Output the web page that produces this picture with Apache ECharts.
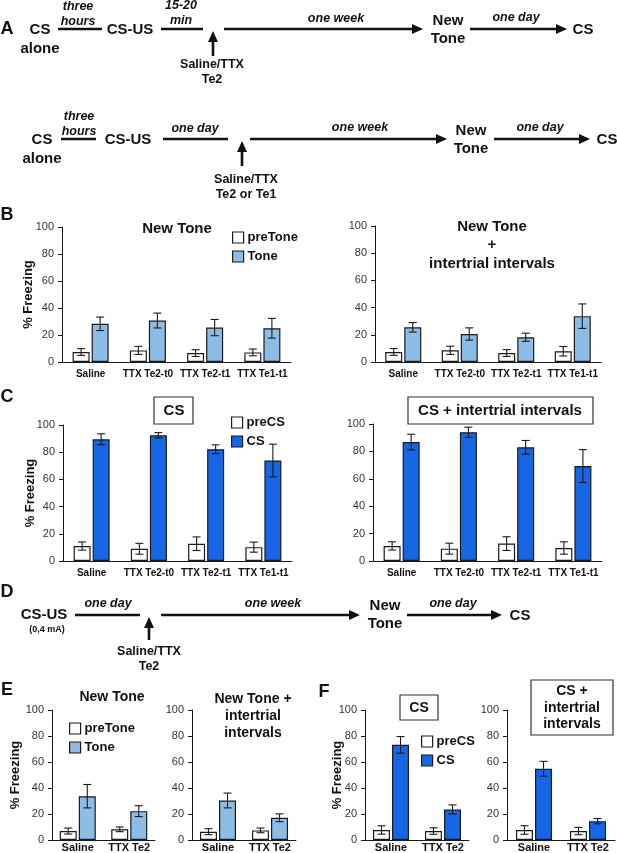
<!DOCTYPE html>
<html>
<head>
<meta charset="UTF-8">
<title>Freezing</title>
<script src="https://cdn.jsdelivr.net/npm/echarts@6/dist/echarts.min.js"></script>
<style>
  html, body { margin: 0; padding: 0; background: #fff; }
  #main { width: 617px; height: 853px; }
</style>
</head>
<body>
<div id="main"></div>
<script type="text/javascript">
// categories
var catsB = ['Saline', 'TTX Te2-t0', 'TTX Te2-t1', 'TTX Te1-t1'];
var catsE = ['Saline', 'TTX Te2'];

// B - new tone (mean, sem)
var bL_pre = [7.4, 8.6, 6.6, 7.1],      bL_preErr = [2.5, 3, 2.5, 2.5];
var bL_tone = [28.3, 30.7, 25.5, 25],   bL_toneErr = [5, 5.5, 6, 7.3];
var bR_pre = [7.4, 8.6, 6.6, 7.9],      bR_preErr = [2.5, 3, 2.5, 3.5];
var bR_tone = [25.5, 20.6, 18.2, 33.7], bR_toneErr = [3.5, 4.5, 3, 9];
// C - CS
var cL_pre = [11, 9, 12.7, 10.2],       cL_preErr = [3, 4, 5, 3.7];
var cL_cs = [89.5, 92.4, 82.2, 73.9],   cL_csErr = [4, 2, 3.2, 12];
var cR_pre = [11, 9, 12.7, 9.5],        cR_preErr = [3, 4, 5, 4.5];
var cR_cs = [86.8, 94, 83, 69.3],       cR_csErr = [5.7, 3.7, 5, 12];
// E - new tone, 0.4 mA
var eL_pre = [6.9, 8.2],   eL_preErr = [2.3, 1.8];
var eL_tone = [33.7, 22.2], eL_toneErr = [9, 4.2];
var eR_pre = [6.4, 7.4],   eR_preErr = [2.3, 1.8];
var eR_tone = [30.4, 17.1], eR_toneErr = [5.7, 3];
// F - CS, 0.4 mA
var fL_pre = [7.7, 6.9],   fL_preErr = [3.2, 2.5];
var fL_cs = [73.2, 23.5],  fL_csErr = [6.4, 3.5];
var fR_pre = [7.7, 6.9],   fR_preErr = [3.3, 2.8];
var fR_cs = [54.8, 14.5],  fR_csErr = [5.7, 2];

var yMin = 0, yMax = 100, yStep = 20;
var toneNames = ['preTone', 'Tone'];
var csNames = ['preCS', 'CS'];

var TONE = '#8cbde6', CSB = '#1766e6', INK = '#1a1a1a';
var FF = '"Liberation Sans", Arial, sans-serif';

// panels: data + where they sit
var panels = [
  {cats: catsB, pre: bL_pre, preErr: bL_preErr, main: bL_tone, mainErr: bL_toneErr, names: toneNames, color: TONE,
   g: [62, 227, 229, 135], bw: 17, fs: 10, lm: 7, yName: 27},
  {cats: catsB, pre: bR_pre, preErr: bR_preErr, main: bR_tone, mainErr: bR_toneErr, names: toneNames, color: TONE,
   g: [375, 226, 226, 136], bw: 17, fs: 10, lm: 7},
  {cats: catsB, pre: cL_pre, preErr: cL_preErr, main: cL_cs, mainErr: cL_csErr, names: csNames, color: CSB,
   g: [63, 425, 229, 136], bw: 17, fs: 10, lm: 7, yName: 26},
  {cats: catsB, pre: cR_pre, preErr: cR_preErr, main: cR_cs, mainErr: cR_csErr, names: csNames, color: CSB,
   g: [373, 424, 229, 137], bw: 17, fs: 10, lm: 7},
  {cats: catsE, pre: eL_pre, preErr: eL_preErr, main: eL_tone, mainErr: eL_toneErr, names: toneNames, color: TONE,
   g: [52, 710, 103, 131], bw: 17, fs: 11, lm: 2, yName: 30},
  {cats: catsE, pre: eR_pre, preErr: eR_preErr, main: eR_tone, mainErr: eR_toneErr, names: toneNames, color: TONE,
   g: [192, 710, 104, 131], bw: 17, fs: 11, lm: 2},
  {cats: catsE, pre: fL_pre, preErr: fL_preErr, main: fL_cs, mainErr: fL_csErr, names: csNames, color: CSB,
   g: [365, 710, 104, 131], bw: 17, fs: 11, lm: 2, yName: 21},
  {cats: catsE, pre: fR_pre, preErr: fR_preErr, main: fR_cs, mainErr: fR_csErr, names: csNames, color: CSB,
   g: [507, 710, 108, 131], bw: 17, fs: 11, lm: 2}
];

var GAP = 0.12;

function errSeries(i, vals, errs, side, bw) {
  var off = side * (bw + GAP * bw) / 2;
  return {
    type: 'custom', xAxisIndex: i, yAxisIndex: i, z: 5, silent: true,
    encode: {x: 0, y: [1, 2]},
    data: vals.map(function (v, k) { return [k, v - errs[k], v + errs[k]]; }),
    renderItem: function (params, api) {
      var lo = api.coord([api.value(0), api.value(1)]);
      var hi = api.coord([api.value(0), api.value(2)]);
      var x = lo[0] + off, cap = 4;
      var st = {stroke: INK, lineWidth: 1.1};
      return {type: 'group', children: [
        {type: 'line', shape: {x1: x, y1: lo[1], x2: x, y2: hi[1]}, style: st},
        {type: 'line', shape: {x1: x - cap, y1: lo[1], x2: x + cap, y2: lo[1]}, style: st},
        {type: 'line', shape: {x1: x - cap, y1: hi[1], x2: x + cap, y2: hi[1]}, style: st}
      ]};
    }
  };
}

var grid = [], xAxis = [], yAxis = [], series = [];
panels.forEach(function (p, i) {
  grid.push({left: p.g[0], top: p.g[1], width: p.g[2], height: p.g[3]});
  xAxis.push({
    type: 'category', gridIndex: i, data: p.cats,
    axisTick: {show: false},
    axisLine: {lineStyle: {color: INK, width: 1}},
    axisLabel: {interval: 0, fontWeight: 'bold', fontSize: p.fs, color: '#111', margin: p.lm, fontFamily: FF}
  });
  yAxis.push({
    type: 'value', gridIndex: i, min: yMin, max: yMax, interval: yStep,
    splitLine: {show: false},
    axisLine: {show: true, lineStyle: {color: INK, width: 1}},
    axisTick: {show: true, length: 4, lineStyle: {color: INK}},
    axisLabel: {fontSize: 11, color: '#333', margin: 8, fontFamily: FF},
    name: p.yName ? '% Freezing' : '',
    nameLocation: 'middle', nameRotate: 90, nameGap: p.yName || 20,
    nameMoveOverlap: false,
    nameTextStyle: {fontWeight: 'bold', fontSize: 13, color: '#111', fontFamily: FF}
  });
  series.push({
    type: 'bar', name: p.names[0], xAxisIndex: i, yAxisIndex: i, data: p.pre,
    barWidth: p.bw, barGap: (GAP * 100) + '%', silent: true,
    itemStyle: {color: '#fff', borderColor: INK, borderWidth: 1.2}
  });
  series.push({
    type: 'bar', name: p.names[1], xAxisIndex: i, yAxisIndex: i, data: p.main,
    barWidth: p.bw, barGap: (GAP * 100) + '%', silent: true,
    itemStyle: {color: p.color, borderColor: INK, borderWidth: 1.2}
  });
  series.push(errSeries(i, p.pre, p.preErr, -1, p.bw));
  series.push(errSeries(i, p.main, p.mainErr, 1, p.bw));
});

function legendAt(left, top, names, color) {
  return {
    left: left, top: top, orient: 'vertical', itemGap: 6, itemWidth: 11, itemHeight: 11,
    icon: 'rect', selectedMode: false,
    textStyle: {fontWeight: 'bold', fontSize: 13, color: '#111', fontFamily: FF, padding: [0, 0, 0, -1]},
    data: [
      {name: names[0], itemStyle: {color: '#fff', borderColor: INK, borderWidth: 1.2}},
      {name: names[1], itemStyle: {color: color, borderColor: INK, borderWidth: 1.2}}
    ]
  };
}
var legend = [
  legendAt(227, 226, toneNames, TONE),
  legendAt(226, 411, csNames, CSB),
  legendAt(64, 717, toneNames, TONE),
  legendAt(416, 730, csNames, CSB)
];

// ---- schematic timelines and panel text ----
var g = [];
function txt(x, y, s, font, va, lh) {
  g.push({type: 'text', x: x, y: y, silent: true, style: {
    text: s, fill: '#111', font: font + ' ' + FF, align: 'center',
    verticalAlign: va || 'middle', lineHeight: lh || undefined
  }});
}
function hline(x1, x2, y) {
  g.push({type: 'line', silent: true, shape: {x1: x1, y1: y, x2: x2, y2: y}, style: {stroke: '#111', lineWidth: 2.6}});
}
function arrowR(x1, x2, y) {
  hline(x1, x2 - 7, y);
  g.push({type: 'polygon', silent: true, shape: {points: [[x2, y], [x2 - 11, y - 5], [x2 - 11, y + 5]]}, style: {fill: '#111'}});
}
function arrowU(x, yb, yt) {
  g.push({type: 'line', silent: true, shape: {x1: x, y1: yb, x2: x, y2: yt + 7}, style: {stroke: '#111', lineWidth: 2.6}});
  g.push({type: 'polygon', silent: true, shape: {points: [[x, yt], [x - 5, yt + 11], [x + 5, yt + 11]]}, style: {fill: '#111'}});
}
var NODE = 'bold 15px', ITAL = 'italic bold 12.5px', SMALL = 'bold 12.5px';

var stepsA = ['CS\nalone', 'CS-US', 'New\nTone', 'CS'];
var gapsA1 = ['three\nhours', '15-20\nmin', 'one week', 'one day'];
var gapsA2 = ['three\nhours', 'one day', 'one week', 'one day'];
var injA1 = 'Saline/TTX\nTe2', injA2 = 'Saline/TTX\nTe2 or Te1';
var stepsD = ['CS-US', '(0,4 mA)', 'New\nTone', 'CS'];
var gapsD = ['one day', 'one week', 'one day'];
var injD = 'Saline/TTX\nTe2';

// A, row 1
var y1 = 29;
txt(40, y1 - 9, stepsA[0], NODE, 'top', 19);
hline(58, 102, y1); txt(78, y1 - 15, gapsA1[0], ITAL, 'middle', 15);
txt(130, y1 + 1, stepsA[1], NODE);
hline(161, 203, y1); txt(181, y1 - 16, gapsA1[1], ITAL, 'middle', 15);
arrowU(213, 56, y1 + 2); txt(212, 72, injA1, SMALL, 'middle', 14.5);
arrowR(224, 423, y1); txt(336, y1 - 10, gapsA1[2], ITAL);
txt(448, y1 + 1, stepsA[2], NODE, 'middle', 18);
arrowR(470, 567, y1); txt(516, y1 - 11, gapsA1[3], ITAL);
txt(583, y1 + 1, stepsA[3], NODE);

// A, row 2
var y2 = 139;
txt(42, y2 - 9, stepsA[0], NODE, 'top', 19);
hline(61, 96, y2); txt(79, y2 - 15, gapsA2[0], ITAL, 'middle', 15);
txt(128, y2 + 1, stepsA[1], NODE);
hline(163, 228, y2); txt(195, y2 - 10, gapsA2[1], ITAL);
arrowU(242, 166, y2 + 2); txt(246, 187, injA2, SMALL, 'middle', 14.5);
arrowR(250, 447, y2); txt(360, y2 - 11, gapsA2[2], ITAL);
txt(471, y2 + 1, stepsA[2], NODE, 'middle', 18);
arrowR(494, 590, y2); txt(540, y2 - 11, gapsA2[3], ITAL);
txt(607, y2 + 1, stepsA[3], NODE);

// D
var yd = 615;
txt(44, yd, stepsD[0], NODE);
txt(47, yd + 15, stepsD[1], 'bold 9px');
hline(75, 140, yd); txt(108, yd - 11, gapsD[0], ITAL);
arrowU(149, 640, yd + 2); txt(149, 659, injD, SMALL, 'middle', 14.5);
arrowR(161, 360, yd); txt(273, yd - 11, gapsD[1], ITAL);
txt(385, yd, stepsD[2], NODE, 'middle', 18);
arrowR(407, 502, yd); txt(453, yd - 11, gapsD[2], ITAL);
txt(520, yd + 1, stepsD[3], NODE);

// panel letters
[['A', 7, 29], ['B', 7, 215], ['C', 7, 397], ['D', 7, 592], ['E', 7, 690], ['F', 324, 692]].forEach(function (l) {
  txt(l[1], l[2], l[0], 'bold 18px');
});

// chart titles
function box(x, y, w, h) {
  g.push({type: 'rect', silent: true, shape: {x: x, y: y, width: w, height: h}, style: {fill: '#fff', stroke: '#333', lineWidth: 1.2}});
}
txt(177, 229, 'New Tone', 'bold 15px');
txt(492, 245, 'New Tone\n+\nintertrial intervals', 'bold 15px', 'middle', 18.5);
box(154, 397, 39, 27); txt(174, 411, 'CS', 'bold 15px');
box(408, 397, 185, 27); txt(500, 411, 'CS + intertrial intervals', 'bold 15px');
txt(112, 697, 'New Tone', 'bold 14px');
txt(253, 716, 'New Tone +\nintertrial\nintervals', 'bold 14px', 'middle', 17);
box(400, 695, 38, 25); txt(419, 708, 'CS', 'bold 14px');
box(531, 680, 82, 55); txt(572, 708, 'CS +\nintertrial\nintervals', 'bold 14px', 'middle', 16.5);

var myChart = echarts.init(document.getElementById('main'), null, {renderer: 'canvas'});
myChart.setOption({
  backgroundColor: '#fff',
  animation: false,
  textStyle: {fontFamily: FF},
  grid: grid,
  xAxis: xAxis,
  yAxis: yAxis,
  legend: legend,
  series: series,
  graphic: g
});
</script>
</body>
</html>
